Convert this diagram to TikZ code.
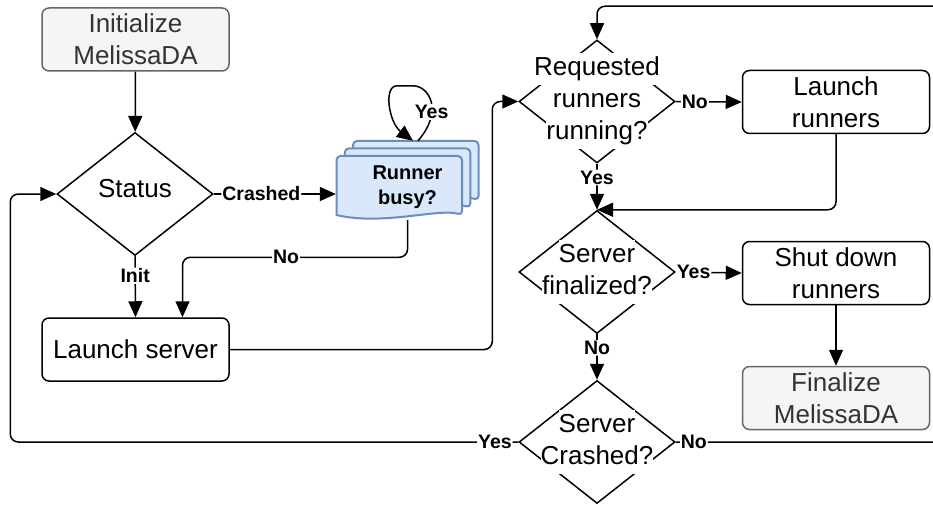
\documentclass[tikz,border=0pt]{standalone}
\usepackage{fontspec}
\setmainfont{Liberation Sans}
\usetikzlibrary{shapes.geometric, arrows.meta, calc, backgrounds}

\definecolor{boxgrey}{HTML}{F5F5F5}
\definecolor{linegrey}{HTML}{666666}
\definecolor{textgrey}{HTML}{333333}
\definecolor{docblue}{HTML}{DAE8FC}
\definecolor{docline}{HTML}{6C8EBF}

% white band behind each line of a decision text
\newcommand{\wb}[1]{{\setlength{\fboxsep}{0pt}\colorbox{white}{\strut #1}}}

\begin{document}
\begin{tikzpicture}[x=1pt, y=-1pt,
        every node/.style={font=\fontsize{26}{32}\selectfont},
        proc/.style={draw, rounded corners=7pt, line width=1.5pt, minimum width=187pt, minimum height=63pt, align=center},
        ends/.style={proc, fill=boxgrey, draw=linegrey, text=textgrey},
        decision/.style={diamond, draw, line width=1.5pt, minimum width=156pt, minimum height=123pt, inner sep=0pt},
        dtext/.style={align=center, inner sep=0pt},
        lbl/.style={fill=white, inner sep=1pt, font=\fontsize{19.5}{22}\selectfont\bfseries},
        flow/.style={-{Triangle[length=16pt, width=14pt]}, line width=1.5pt, rounded corners=8pt}]
        \clip (0,0) rectangle (933,505);

        % Pieces
        \node[ends] (init) at (135.5, 39.5) {Initialize\\MelissaDA};
        \node[decision, label={[dtext, yshift=3pt]center:\wb{Status}}] (status) at (135, 194) {};
        \node[align=center, minimum width=143pt, minimum height=66pt,
              font=\fontsize{20}{25}\selectfont\bfseries] (busy) at (407.5, 187) {Runner\\busy?};
        \node[proc] (server) at (135.5, 349.5) {Launch server};
        \node[decision, label={[dtext]center:{\wb{Requested}\\\wb{runners}\\\wb{running?}}}] (req) at (597, 101.5) {};
        \node[proc] (runners) at (836, 102) {Launch\\runners};
        \node[decision, label={[dtext]center:{\wb{Server}\\\wb{finalized?}}}] (fin) at (597, 272) {};
        \node[proc] (shut) at (836, 273) {Shut down\\runners};
        \node[ends] (final) at (836, 398) {Finalize\\MelissaDA};
        \node[decision, label={[dtext]center:{\wb{Server}\\\wb{Crashed?}}}] (crashed) at (597, 442) {};

        % stacked sheets behind the runner check
        \begin{scope}[on background layer]
            \foreach \d in {2,1,0}
                \draw[docline, fill=docblue, line width=2pt, shift={(busy.center)}, shift={(8.25*\d,-7.5*\d)}]
                    (-71,28) [rounded corners=4pt] -- (-71,-31) -- (54.5,-31) -- (54.5,28) [sharp corners]
                    .. controls (31,21) and (-25,39) .. (-71,28) -- cycle;
        \end{scope}
        \coordinate (loopout) at ($(busy.north)+(10.5,-13)$);
        \coordinate (loopin) at ($(busy.north)+(5.5,-13)$);

        % Arrows
        \draw[flow] (init) -- (status);
        \draw[flow] (status.south) -- (server.north) node[lbl, pos=0.32] {Init};
        \draw[flow] (status.east) -- (status.east -| busy.west) node[lbl, pos=0.39] {Crashed};
        \draw[flow] (loopout) .. controls +(26,-30) and +(24,0) .. ([xshift=-13pt, yshift=55pt]loopout)
            node[lbl, pos=0.35] {Yes} .. controls +(-22,0) and +(-24,-18) .. (loopin);
        \draw[flow] (busy.south) |- ([xshift=47pt, yshift=60pt]server.north) node[lbl, pos=0.77] {No}
            -- ([xshift=47pt]server.north);
        \draw[flow] (server.east) -| ([xshift=-26pt]req.west) -- (req.west);
        \draw[flow] (req.east) -- (runners.west) node[lbl, pos=0.29] {No};
        \draw[flow] (req.south) -- (fin.north) node[lbl, pos=0.3] {Yes};
        \draw[flow] (runners.south) |- (fin.north);
        \draw[flow] (fin.east) -- (shut.west) node[lbl, pos=0.27] {Yes};
        \draw[flow] (fin.south) -- (crashed.north) node[lbl, pos=0.3] {No};
        \draw[flow] (shut) -- (final);
        \draw[flow] (crashed.west) -| ([xshift=-46pt]status.west) node[lbl, pos=0.023] {Yes} -- (status.west);
        \draw[flow] (crashed.east) -| ([xshift=345pt, yshift=33pt]req.north) node[lbl, pos=0.034] {No} -| (req.north);
    \end{tikzpicture}
\end{document}
